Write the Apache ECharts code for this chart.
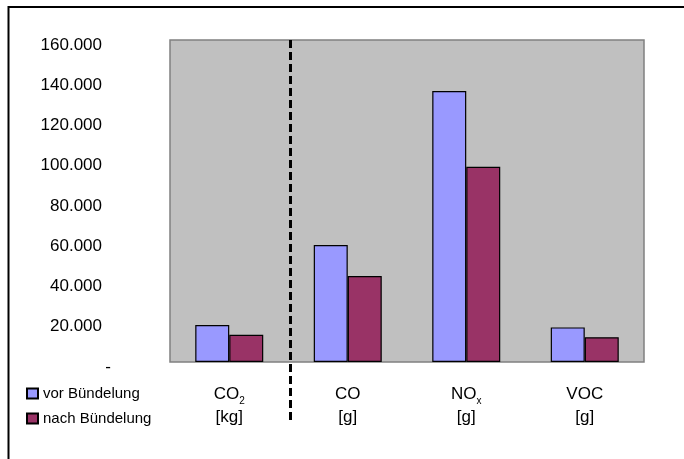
<!DOCTYPE html>
<html>
<head>
<meta charset="utf-8">
<script src="https://cdn.jsdelivr.net/npm/echarts@6/dist/echarts.min.js"></script>
<style>
  html, body { margin: 0; padding: 0; background: #fff; }
  #chart { width: 684px; height: 459px; }
</style>
</head>
<body>
<div id="chart"></div>
<script>
// Emissions before and after bundling
const categories = ['CO2', 'CO', 'NOx', 'VOC'];
const labelMain = ['CO', 'CO', 'NO', 'VOC'];
const labelSub = ['2', '', 'x', ''];
const units = ['[kg]', '[g]', '[g]', '[g]'];
const seriesNames = ['vor Bündelung', 'nach Bündelung'];
const vorValues = [18400, 58100, 134600, 17200];
const nachValues = [13500, 42700, 97000, 12300];
const yTicks = { min: 0, max: 160000, interval: 20000 };

const FONT = "'Liberation Sans', Arial, sans-serif";
const chart = echarts.init(document.getElementById('chart'), null, { renderer: 'canvas' });

function fmtThousands(v) {
  return String(v).replace(/\B(?=(\d{3})+(?!\d))/g, '.');
}

const option = {
  animation: false,
  backgroundColor: '#ffffff',
  textStyle: { fontFamily: FONT, color: '#000' },
  grid: {
    left: 170, top: 40, right: 40, bottom: 97,
    show: true, backgroundColor: '#c0c0c0',
    borderColor: '#808080', borderWidth: 1.5,
    containLabel: false
  },
  legend: {
    orient: 'vertical',
    left: 26, top: 386, padding: 0,
    itemWidth: 11, itemHeight: 10, itemGap: 10,
    icon: 'rect',
    textStyle: { fontFamily: FONT, fontSize: 15, color: '#000' },
    data: seriesNames
  },
  xAxis: {
    type: 'category',
    data: categories,
    axisLine: { show: false },
    axisTick: { show: false },
    axisLabel: {
      margin: 21,
      interval: 0,
      formatter: function (v, i) {
        let s = '{m|' + labelMain[i] + '}';
        if (labelSub[i]) s += '{s|' + labelSub[i] + '}';
        return s + '\n{m|' + units[i] + '}';
      },
      rich: {
        m: { fontFamily: FONT, fontSize: 17, color: '#000', lineHeight: 23 },
        s: { fontFamily: FONT, fontSize: 10, color: '#000', lineHeight: 23, verticalAlign: 'bottom' }
      }
    }
  },
  yAxis: {
    type: 'value',
    min: yTicks.min, max: yTicks.max, interval: yTicks.interval,
    axisLine: { show: false },
    axisTick: { show: false },
    splitLine: { show: false },
    axisLabel: {
      margin: 59,
      padding: [10, 0, 0, 0],
      formatter: function (v) {
        return v === 0 ? '{z|-}' : '{n|' + fmtThousands(v) + '}';
      },
      rich: {
        n: { fontFamily: FONT, fontSize: 17, color: '#000', padding: [0, 9, 0, 0] },
        z: { fontFamily: FONT, fontSize: 17, color: '#000' }
      }
    }
  },
  series: [
    {
      name: seriesNames[0], type: 'bar', data: vorValues,
      barWidth: 34, barGap: '0%',
      itemStyle: { color: '#9999ff', borderColor: '#000', borderWidth: 1.2 }
    },
    {
      name: seriesNames[1], type: 'bar', data: nachValues,
      barWidth: 34, barGap: '0%',
      itemStyle: { color: '#993366', borderColor: '#000', borderWidth: 1.2 }
    }
  ]
};

chart.setOption(option);

// Frame and dashed separator between the CO2 group and the gram-based groups
const x0 = chart.convertToPixel({ xAxisIndex: 0 }, 0);
const x1 = chart.convertToPixel({ xAxisIndex: 0 }, 1);
const sepX = Math.round((x0 + x1) / 2) + 1.5;
const topY = chart.convertToPixel({ yAxisIndex: 0 }, yTicks.max);

chart.setOption({
  graphic: [
    {
      type: 'polyline', silent: true,
      shape: { points: [[8.5, 459], [8.5, 7], [684, 7]] },
      style: { stroke: '#000', lineWidth: 2, fill: null }
    },
    {
      type: 'line', silent: true, z: 100,
      shape: { x1: sepX, y1: topY, x2: sepX, y2: 424 },
      style: { stroke: '#000', lineWidth: 3, lineDash: [8, 4] }
    }
  ]
});
</script>
</body>
</html>
